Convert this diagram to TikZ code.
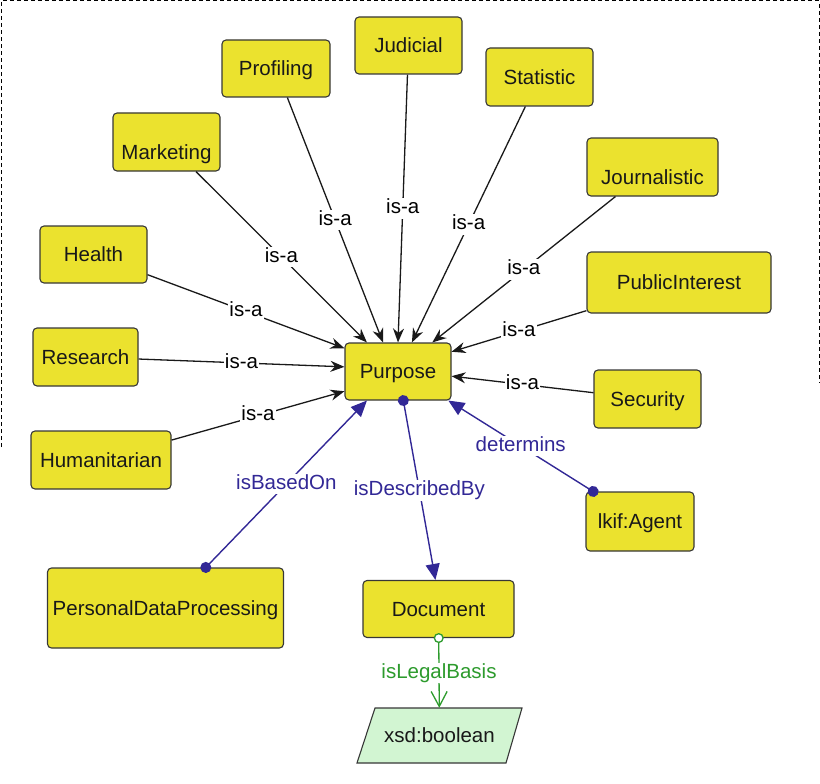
\documentclass[tikz,border=0pt]{standalone}
\usepackage{fontspec}
\setmainfont{Liberation Sans}
\usetikzlibrary{arrows.meta,calc}
\definecolor{boxyellow}{RGB}{235,226,46}
\definecolor{boxline}{RGB}{55,55,55}
\definecolor{relblue}{RGB}{50,40,150}
\definecolor{relgreen}{RGB}{45,155,45}
\definecolor{litgreen}{RGB}{210,245,210}
\begin{document}
\begin{tikzpicture}[x=1pt,y=-1pt,
  txt/.style={font=\fontsize{20.5}{24}\selectfont},
  cls/.style={txt, draw=boxline, fill=boxyellow, rounded corners=4pt, line width=1.1pt, inner sep=0pt, text=black!90, text height=14.6pt, text depth=0pt},
  lowtext/.style={text height=34.6pt},
  sz/.style 2 args={minimum width=#1pt, minimum height=#2pt},
  isa/.style={draw=black!90, line width=1.3pt, -{Stealth[length=14pt,width=11pt]}},
  reledge/.style={draw=relblue, line width=1.4pt, {Circle[length=11pt]}-{Triangle[length=16pt,width=14pt]}, shorten <=-5.5pt},
  litedge/.style={draw=relgreen, line width=1.3pt, {Circle[open,length=10pt,fill=white]}-{Straight Barb[length=15pt,width=16pt]}, shorten <=-5pt},
  edgelab/.style={txt, fill=white, inner sep=1pt, text height=14.6pt, text depth=4pt},
  frameline/.style={draw=black, line width=1pt, dash pattern=on 4pt off 3pt}]
\useasboundingbox (0,0) rectangle (820,784);
\draw[frameline] (1,447) -- (1,1) -- (819,1) -- (819,383);

% class nodes
\node[cls, sz={108}{57}] (Profiling) at (276,68.5) {Profiling};
\node[cls, sz={107}{57}] (Judicial) at (408.5,45.5) {Judicial};
\node[cls, sz={107}{58}] (Statistic) at (539.5,77) {Statistic};
\node[cls, sz={107}{58}, lowtext] (Marketing) at (166.5,142) {Marketing};
\node[cls, sz={131}{58}, lowtext] (Journalistic) at (652.5,167) {Journalistic};
\node[cls, sz={107}{57}] (Health) at (93.5,254.5) {Health};
\node[cls, sz={184}{61}] (PublicInterest) at (679,282.5) {PublicInterest};
\node[cls, sz={105}{58}] (Research) at (85.5,357) {Research};
\node[cls, sz={106}{57}] (Purpose) at (398,371.5) {Purpose};
\node[cls, sz={107}{58}] (Security) at (647.5,399) {Security};
\node[cls, sz={140}{58}] (Humanitarian) at (101,460) {Humanitarian};
\node[cls, sz={108}{59}] (Agent) at (640,521.5) {lkif:Agent};
\node[cls, sz={236}{80}] (PDP) at (165.5,608) {PersonalDataProcessing};
\node[cls, sz={151}{57}] (Document) at (438.5,609) {Document};

% literal (parallelogram)
\filldraw[fill=litgreen, draw=boxline, line width=1.1pt] (375,708) -- (522,708) -- (506,763) -- (357,763) -- cycle;
\node[txt, sz={150}{55}, inner sep=0pt, text height=14.6pt, text depth=0pt, text=black!90] (bool) at (439.5,735.5) {xsd:boolean};

% attachment points on Purpose
\coordinate (pN1) at ($(Purpose.north west)!0.21!(Purpose.north east)$);
\coordinate (pN2) at ($(Purpose.north west)!0.36!(Purpose.north east)$);
\coordinate (pN3) at ($(Purpose.north west)!0.50!(Purpose.north east)$);
\coordinate (pN4) at ($(Purpose.north west)!0.63!(Purpose.north east)$);
\coordinate (pN5) at ($(Purpose.north west)!0.82!(Purpose.north east)$);
\coordinate (pW1) at ($(Purpose.north west)!0.10!(Purpose.south west)$);
\coordinate (pW2) at ($(Purpose.north west)!0.42!(Purpose.south west)$);
\coordinate (pW3) at ($(Purpose.north west)!0.84!(Purpose.south west)$);
\coordinate (pE1) at ($(Purpose.north east)!0.16!(Purpose.south east)$);
\coordinate (pE2) at ($(Purpose.north east)!0.58!(Purpose.south east)$);
\coordinate (pS1) at ($(Purpose.south west)!0.21!(Purpose.south east)$);
\coordinate (pS2) at ($(Purpose.south west)!0.55!(Purpose.south east)$);
\coordinate (pS3) at ($(Purpose.south west)!0.97!(Purpose.south east)$);
\coordinate (dT) at ($(Document.north west)!0.48!(Document.north east)$);
\coordinate (pdT) at ($(PDP.north west)!0.67!(PDP.north east)$);
\coordinate (aT) at ($(Agent.north west)!0.07!(Agent.north east)$);

% is-a edges
\draw[isa] (Marketing) -- (pN1) node[midway, edgelab] {is-a};
\draw[isa] (Profiling) -- (pN2) node[midway, edgelab] {is-a};
\draw[isa] (Judicial) -- (pN3) node[midway, edgelab] {is-a};
\draw[isa] (Statistic) -- (pN4) node[midway, edgelab] {is-a};
\draw[isa] (Journalistic) -- (pN5) node[midway, edgelab] {is-a};
\draw[isa] (Health) -- (pW1) node[midway, edgelab] {is-a};
\draw[isa] (Research) -- (pW2) node[midway, edgelab] {is-a};
\draw[isa] (Humanitarian) -- (pW3) node[midway, edgelab] {is-a};
\draw[isa] (PublicInterest) -- (pE1) node[midway, edgelab] {is-a};
\draw[isa] (Security) -- (pE2) node[midway, edgelab] {is-a};

% object properties
\draw[reledge] (pdT) -- (pS1) node[midway, edgelab, text=relblue] {isBasedOn};
\draw[reledge] (pS2) -- (dT) node[midway, edgelab, text=relblue] {isDescribedBy};
\draw[reledge] (aT) -- (pS3) node[midway, edgelab, text=relblue] {determins};

% datatype property
\draw[litedge] (Document) -- (bool) node[midway, edgelab, text=relgreen] {isLegalBasis};
\end{tikzpicture}
\end{document}
